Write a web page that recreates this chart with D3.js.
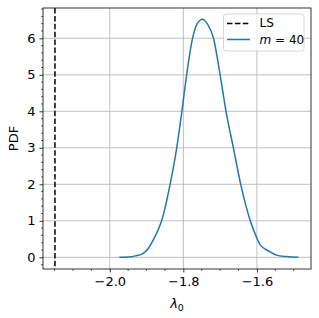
<!DOCTYPE html>
<html>
<head>
<meta charset="utf-8">
<script src="https://cdn.jsdelivr.net/npm/d3@7"></script>
<style>
  body { margin: 0; background: #fff; }
  text { font-family: "DejaVu Sans", sans-serif; }
</style>
</head>
<body>
<div id="chart"></div>
<script>
// density curve
const lambdaVals = [-1.974, -1.95, -1.93, -1.909, -1.895, -1.882, -1.87, -1.859, -1.836, -1.818, -1.804, -1.791, -1.775, -1.762, -1.748, -1.735, -1.718, -1.70, -1.684, -1.664, -1.644, -1.618, -1.602, -1.591, -1.564, -1.547, -1.52, -1.487];
const pdfVals    = [0.0, 0.01, 0.04, 0.11, 0.25, 0.47, 0.72, 1.0, 2.0, 3.0, 4.0, 5.0, 6.0, 6.4, 6.52, 6.4, 6.0, 5.0, 4.0, 3.0, 2.0, 1.0, 0.57, 0.34, 0.15, 0.06, 0.02, 0.0];
const lsValue = -2.149;
const xTicks = [-2.0, -1.8, -1.6];
const yTicks = [0, 1, 2, 3, 4, 5, 6];
const legendLabels = ["LS", "m = 40"];

const W = 319, H = 318;
const margin = {top: 8, right: 8, bottom: 49, left: 43},
    width = W - margin.left - margin.right,
    height = H - margin.top - margin.bottom;

const svg = d3.select("#chart")
  .append("svg")
    .attr("width", W)
    .attr("height", H)
  .append("g")
    .attr("transform", `translate(${margin.left},${margin.top})`);

const x = d3.scaleLinear().domain([-2.1815, -1.453]).range([0, width]);
const y = d3.scaleLinear().domain([-0.32, 6.83]).range([height, 0]);

// grid
svg.append("g").selectAll("line.gx")
  .data(xTicks).join("line")
    .attr("x1", d => x(d)).attr("x2", d => x(d))
    .attr("y1", 0).attr("y2", height)
    .attr("stroke", "#b0b0b0").attr("stroke-width", 0.8);
svg.append("g").selectAll("line.gy")
  .data(yTicks).join("line")
    .attr("x1", 0).attr("x2", width)
    .attr("y1", d => y(d)).attr("y2", d => y(d))
    .attr("stroke", "#b0b0b0").attr("stroke-width", 0.8);

// axes
const xAxis = d3.axisBottom(x).tickValues(xTicks).tickSize(3.5).tickPadding(4)
  .tickFormat(d => d3.format(".1f")(d).replace("-", "\u2212"));
svg.append("g")
  .attr("transform", `translate(0, ${height})`)
  .call(xAxis)
  .call(g => g.select(".domain").remove());

const xMinor = d3.range(-2.15, -1.45, 0.05).filter(v => !xTicks.some(t => Math.abs(t - v) < 1e-6));
svg.append("g").selectAll("line")
  .data(xMinor).join("line")
    .attr("x1", d => x(d)).attr("x2", d => x(d))
    .attr("y1", height).attr("y2", height + 2)
    .attr("stroke", "black").attr("stroke-width", 0.6);

const yAxis = d3.axisLeft(y).tickValues(yTicks).tickSize(3.5).tickPadding(4);
svg.append("g")
  .call(yAxis)
  .call(g => g.select(".domain").remove());

const yMinor = d3.range(-0.2, 6.81, 0.2).filter(v => !yTicks.some(t => Math.abs(t - v) < 1e-6));
svg.append("g").selectAll("line")
  .data(yMinor).join("line")
    .attr("x1", -2).attr("x2", 0)
    .attr("y1", d => y(d)).attr("y2", d => y(d))
    .attr("stroke", "black").attr("stroke-width", 0.6);

svg.selectAll(".tick text").style("font-size", "13px").attr("fill", "black");
svg.selectAll(".tick line").attr("stroke", "black").attr("stroke-width", 0.8);

// LS line
svg.append("line")
  .attr("x1", x(lsValue)).attr("x2", x(lsValue))
  .attr("y1", 0).attr("y2", height)
  .attr("stroke", "black").attr("stroke-width", 1.5)
  .style("stroke-dasharray", "5.5,2.4");

// curve
const data = lambdaVals.map((v, i) => ({l: v, p: pdfVals[i]}));
svg.append("path")
  .datum(data)
  .attr("fill", "none")
  .attr("stroke", "#1f77b4")
  .attr("stroke-width", 1.5)
  .attr("d", d3.line().x(d => x(d.l)).y(d => y(d.p)).curve(d3.curveMonotoneX));

// frame
svg.append("rect")
  .attr("width", width).attr("height", height)
  .attr("fill", "none").attr("stroke", "black").attr("stroke-width", 0.8);

// axis labels
svg.append("text")
  .attr("transform", `translate(${14 - margin.left}, ${height / 2}) rotate(-90)`)
  .attr("text-anchor", "middle")
  .attr("dominant-baseline", "middle")
  .style("font-size", "13px")
  .text("PDF");

const xl = svg.append("text")
  .attr("x", width / 2)
  .attr("y", height + 39)
  .attr("text-anchor", "middle")
  .style("font-size", "13px");
xl.append("tspan").style("font-style", "italic").text("\u03bb");
xl.append("tspan").attr("dy", 3).style("font-size", "9.5px").text("0");

// legend
const lg = svg.append("g").attr("transform", `translate(${223.5 - margin.left}, ${14 - margin.top})`);
lg.append("rect")
  .attr("width", 80.5).attr("height", 37).attr("rx", 2.5)
  .attr("fill", "white").attr("fill-opacity", 0.8)
  .attr("stroke", "#cccccc").attr("stroke-width", 0.8);
lg.append("line")
  .attr("x1", 3.5).attr("x2", 26.5).attr("y1", 9.5).attr("y2", 9.5)
  .attr("stroke", "black").attr("stroke-width", 1.5)
  .style("stroke-dasharray", "5.5,2.4");
lg.append("text").attr("x", 36).attr("y", 9.5)
  .attr("dominant-baseline", "middle").style("font-size", "12px")
  .text(legendLabels[0]);
lg.append("line")
  .attr("x1", 3.5).attr("x2", 26.5).attr("y1", 25.5).attr("y2", 25.5)
  .attr("stroke", "#1f77b4").attr("stroke-width", 1.5);
const t2 = lg.append("text").attr("x", 36).attr("y", 25.5)
  .attr("dominant-baseline", "middle").style("font-size", "12px");
t2.append("tspan").style("font-style", "italic").text("m");
t2.append("tspan").text(" = 40");
</script>
</body>
</html>
